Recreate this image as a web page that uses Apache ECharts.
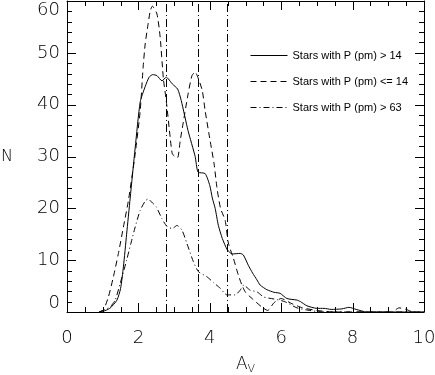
<!DOCTYPE html>
<html>
<head>
<meta charset="utf-8">
<script src="https://cdn.jsdelivr.net/npm/echarts@6/dist/echarts.min.js"></script>
<style>
  html, body { margin: 0; padding: 0; background: #fff; }
  #chart { width: 435px; height: 375px; }
</style>
</head>
<body>
<div id="chart"></div>
<script>
// Stars with P (pm) > 14
const avHigh = [0.9, 1.0, 1.2, 1.4, 1.5, 1.58, 1.67, 1.77, 1.91, 2.05, 2.19, 2.3, 2.4, 2.52, 2.66, 2.78, 2.95, 3.1, 3.2, 3.39, 3.59, 3.67, 3.87, 4.0, 4.07, 4.15, 4.24, 4.35, 4.49, 4.63, 4.85, 4.94, 5.08, 5.2, 5.32, 5.41, 5.6, 5.8, 5.97, 6.16, 6.44, 6.54, 6.72, 7.0, 7.2, 7.4, 7.7, 7.9, 8.1, 8.4, 10];
const nHigh = [0, 0.1, 0.7, 2.3, 4.5, 8.7, 15, 22, 31.7, 40.5, 43.5, 45.3, 45.8, 45.6, 44.6, 45.3, 44, 43, 40.8, 35, 30, 27, 26.7, 24.4, 22, 20, 16.7, 14.2, 12, 11.2, 11.3, 11, 9, 7.5, 6.2, 5.2, 4.3, 3.8, 3.6, 2.6, 2.3, 2.0, 1.2, 0.7, 0.7, 0.5, 0.6, 0.9, 0.5, 0, 0];

// Stars with P (pm) <= 14
const avLow = [0.9, 1.02, 1.16, 1.3, 1.44, 1.58, 1.72, 1.9, 2.05, 2.13, 2.19, 2.27, 2.33, 2.39, 2.52, 2.61, 2.7, 2.78, 2.89, 2.95, 3.03, 3.1, 3.17, 3.25, 3.39, 3.5, 3.59, 3.67, 3.79, 3.87, 4.01, 4.12, 4.2, 4.3, 4.43, 4.52, 4.66, 4.8, 4.9, 5.0, 5.2, 5.45, 5.62, 5.8, 6.0, 6.3, 6.6, 7.0, 7.5, 9.1, 9.3, 9.5, 9.7, 10];
const nLow = [0, 0.4, 2.9, 6.8, 11.3, 16.4, 21.5, 30, 38.8, 47, 51.7, 55.5, 58, 59, 57.5, 53, 45, 40.8, 33.7, 30.5, 30, 29.8, 33, 36.3, 42, 45.6, 46.3, 45.2, 42.7, 38.8, 33, 28.6, 24, 20, 17.7, 13.3, 10.4, 7.1, 5.2, 3.8, 2.5, 1, 0.3, 1.8, 2.6, 1.6, 0.8, 0.3, 0, 0, 0.8, 0.5, 0, 0];

// Stars with P (pm) > 63
const avTop = [0.9, 1.0, 1.21, 1.35, 1.49, 1.67, 1.8, 1.91, 2.05, 2.19, 2.27, 2.4, 2.5, 2.66, 2.8, 2.95, 3.08, 3.22, 3.36, 3.54, 3.68, 3.92, 4.1, 4.29, 4.48, 4.71, 4.85, 4.95, 5.13, 5.32, 5.51, 5.8, 6.1, 6.44, 6.8, 7.2, 10];
const nTop = [0, 0.3, 1, 2.3, 5.5, 10, 13.5, 16.4, 19.6, 21.4, 21.8, 21, 20.3, 18, 16.5, 16.1, 16.7, 15.8, 13.2, 9.7, 7.8, 6.8, 5.7, 4.6, 3.3, 3.3, 4.2, 5.2, 4.2, 3.9, 2.9, 2.5, 2, 0.8, 0.3, 0, 0];

const vLines = [2.77, 3.67, 4.5];

const seriesNames = ['Stars with P (pm) > 14', 'Stars with P (pm) <= 14', 'Stars with P (pm) > 63'];

// tick positions of the IDL box (major ones carry the labels)
const xMajor = [0, 2, 4, 6, 8, 10];
const xMinor = [0.5, 1, 1.5, 2.5, 3, 3.5, 4.5, 5, 5.5, 6.5, 7, 7.5, 8.5, 9, 9.5];
const yMajor = [0, 10, 20, 30, 40, 50, 60];
const yMinor = [2, 4, 6, 8, 12, 14, 16, 18, 22, 24, 26, 28, 32, 34, 36, 38, 42, 44, 46, 48, 52, 54, 56, 58];

const X_MIN = 0, X_MAX = 10, Y_MIN = 0, Y_MAX = 60;

const pairs = (xs, ys) => xs.map((x, i) => [x, ys[i]]);
const crisp = v => Math.round(v) + 0.5;

const chart = echarts.init(document.getElementById('chart'));

const labelFont = { fontFamily: 'DejaVu Sans', fontSize: 18, fontWeight: 'lighter', color: '#000' };
const tickStyle = { stroke: '#000', lineWidth: 1 };

// inward ticks on bottom+top for each x value
const renderXTick = (params, api) => {
  const len = api.value(1) ? 9 : 5;
  const b = api.coord([api.value(0), Y_MIN]);
  const t = api.coord([api.value(0), Y_MAX]);
  const x = crisp(b[0]);
  return {
    type: 'group',
    children: [
      { type: 'line', shape: { x1: x, y1: b[1], x2: x, y2: b[1] - len }, style: tickStyle },
      { type: 'line', shape: { x1: x, y1: t[1], x2: x, y2: t[1] + len }, style: tickStyle }
    ]
  };
};

// inward ticks on left+right for each y value
const renderYTick = (params, api) => {
  const len = api.value(1) ? 9 : 5;
  const l = api.coord([X_MIN, api.value(0)]);
  const r = api.coord([X_MAX, api.value(0)]);
  const y = crisp(l[1]);
  return {
    type: 'group',
    children: [
      { type: 'line', shape: { x1: l[0], y1: y, x2: l[0] + len, y2: y }, style: tickStyle },
      { type: 'line', shape: { x1: r[0], y1: y, x2: r[0] - len, y2: y }, style: tickStyle }
    ]
  };
};

chart.setOption({
  animation: false,
  grid: { left: 67, right: 11, top: 1, bottom: 63, outerBoundsMode: 'none' },
  legend: {
    orient: 'vertical',
    left: 245,
    top: 45,
    itemWidth: 37,
    itemHeight: 10,
    itemGap: 15,
    itemStyle: { opacity: 0 },
    lineStyle: { width: 1 },
    textStyle: { fontFamily: 'Liberation Sans', fontSize: 11, color: '#000' },
    data: seriesNames
  },
  xAxis: [{
    type: 'value', position: 'bottom', min: X_MIN, max: X_MAX, interval: 2,
    axisLine: { show: true, onZero: false, lineStyle: { color: '#000', width: 1 } },
    axisTick: { show: false },
    splitLine: { show: false },
    axisLabel: { ...labelFont, margin: 17 },
    name: 'A{s|V}',
    nameLocation: 'middle',
    nameGap: 42,
    nameTextStyle: {
      fontFamily: 'DejaVu Sans', fontSize: 17, fontWeight: 'lighter', color: '#000',
      rich: { s: { fontFamily: 'DejaVu Sans', fontSize: 11, color: '#000', padding: [10, 0, 0, 0] } }
    }
  }, {
    type: 'value', position: 'top', min: X_MIN, max: X_MAX, interval: 2,
    axisLine: { show: true, onZero: false, lineStyle: { color: '#000', width: 1 } },
    axisTick: { show: false },
    splitLine: { show: false },
    axisLabel: { show: false }
  }],
  yAxis: [{
    type: 'value', position: 'left', min: Y_MIN, max: Y_MAX, interval: 10,
    axisLine: { show: true, onZero: false, lineStyle: { color: '#000', width: 1 } },
    axisTick: { show: false },
    splitLine: { show: false },
    axisLabel: { ...labelFont, margin: 7, verticalAlignMinLabel: 'bottom', verticalAlignMaxLabel: 'top' },
    name: 'N',
    nameLocation: 'middle',
    nameRotate: 0,
    nameGap: 54,
    nameTextStyle: { fontFamily: 'DejaVu Sans', fontSize: 16, fontWeight: 'lighter', color: '#000' }
  }, {
    type: 'value', position: 'right', min: Y_MIN, max: Y_MAX, interval: 10,
    axisLine: { show: true, onZero: false, lineStyle: { color: '#000', width: 1 } },
    axisTick: { show: false },
    splitLine: { show: false },
    axisLabel: { show: false }
  }],
  series: [{
    name: seriesNames[0],
    type: 'line',
    data: pairs(avHigh, nHigh),
    smooth: 0.2,
    symbol: 'none',
    lineStyle: { color: '#000', width: 1, type: 'solid' },
    markLine: {
      silent: true,
      symbol: 'none',
      label: { show: false },
      lineStyle: { color: '#000', width: 1, type: [8, 3, 1, 3] },
      data: vLines.map(v => ({ xAxis: v }))
    }
  }, {
    name: seriesNames[1],
    type: 'line',
    data: pairs(avLow, nLow),
    smooth: 0.2,
    symbol: 'none',
    lineStyle: { color: '#000', width: 1, type: [6, 4] }
  }, {
    name: seriesNames[2],
    type: 'line',
    data: pairs(avTop, nTop),
    smooth: 0.2,
    symbol: 'none',
    lineStyle: { color: '#000', width: 1, type: [6, 3, 1, 3] }
  }, {
    type: 'custom',
    silent: true,
    clip: false,
    renderItem: renderXTick,
    data: [...xMajor.map(v => [v, 1]), ...xMinor.map(v => [v, 0])]
  }, {
    type: 'custom',
    silent: true,
    clip: false,
    renderItem: renderYTick,
    data: [...yMajor.map(v => [v, 1]), ...yMinor.map(v => [v, 0])]
  }]
});
</script>
</body>
</html>
